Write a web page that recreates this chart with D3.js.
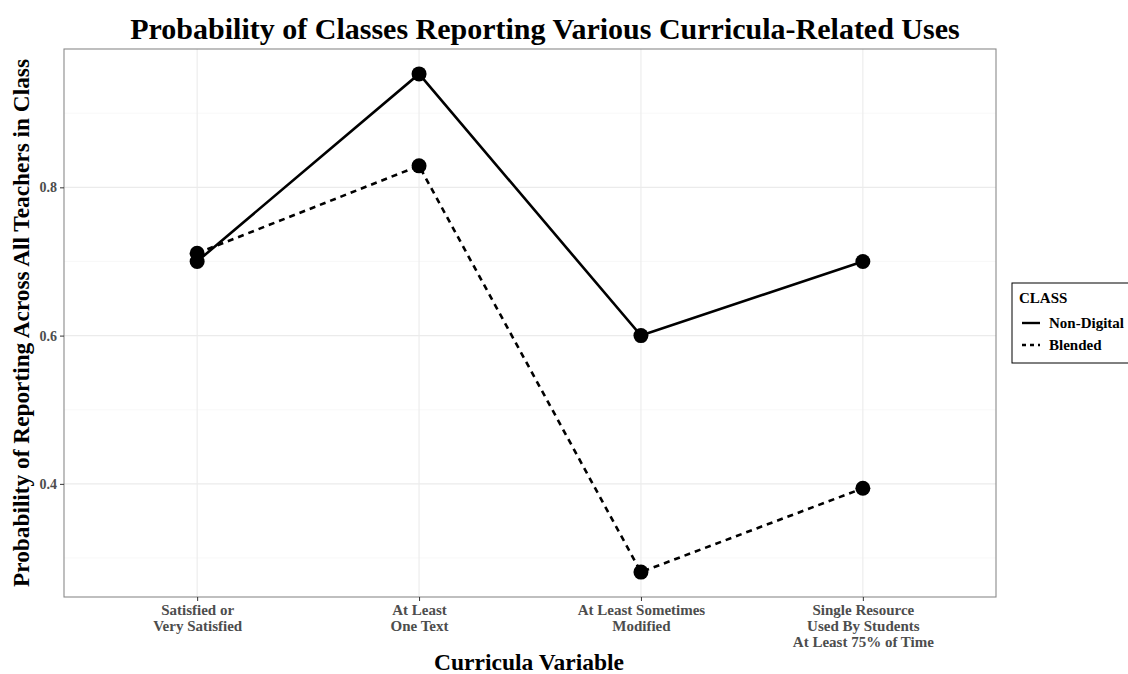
<!DOCTYPE html>
<meta charset="utf-8">
<style>
  body { margin: 0; background: #fff; }
  svg text { font-family: "Liberation Serif", "Times New Roman", serif; font-weight: bold; }
  .grid-major { stroke: #ebebeb; stroke-width: 1.1px; }
  .grid-minor { stroke: #f3f3f3; stroke-width: 0.6px; }
  .tick-label { fill: #4d4d4d; font-size: 15px; }
  .y-tick-label { fill: #4d4d4d; font-size: 14px; }
</style>
<svg width="1128" height="674"></svg>
<script src="https://cdn.jsdelivr.net/npm/d3@7"></script>
<script>
  // values
  var categories = ["Satisfied or\nVery Satisfied", "At Least\nOne Text", "At Least Sometimes\nModified", "Single Resource\nUsed By Students\nAt Least 75% of Time"]
  var nonDigital = [0.700, 0.953, 0.600, 0.700]
  var blended = [0.711, 0.829, 0.281, 0.394]
  var yTicks = [0.4, 0.6, 0.8]
  var yMinor = [0.3, 0.5, 0.7, 0.9]
  var seriesNames = ["Non-Digital", "Blended"]

  var svg = d3.select("svg")
  var panel = { left: 64, right: 996, top: 49, bottom: 597 }

  var x = d3.scalePoint()
    .domain(categories)
    .range([panel.left, panel.right])
    .padding(0.6)

  var all = nonDigital.concat(blended)
  var lo = d3.min(all), hi = d3.max(all), pad = (hi - lo) * 0.05
  var y = d3.scaleLinear()
    .domain([lo - pad, hi + pad])
    .range([panel.bottom, panel.top])

  var g = svg.append("g")

  // grid
  g.selectAll(".grid-minor-y").data(yMinor).enter().append("line")
    .attr("class", "grid-minor")
    .attr("x1", panel.left).attr("x2", panel.right)
    .attr("y1", d => y(d)).attr("y2", d => y(d))
  g.selectAll(".grid-major-y").data(yTicks).enter().append("line")
    .attr("class", "grid-major")
    .attr("x1", panel.left).attr("x2", panel.right)
    .attr("y1", d => y(d)).attr("y2", d => y(d))
  g.selectAll(".grid-major-x").data(categories).enter().append("line")
    .attr("class", "grid-major")
    .attr("x1", d => x(d)).attr("x2", d => x(d))
    .attr("y1", panel.top).attr("y2", panel.bottom)

  // series
  var series = [
    { name: seriesNames[0], values: nonDigital, dash: null },
    { name: seriesNames[1], values: blended, dash: "6,5" }
  ]
  var line = d3.line()
    .x((d, i) => x(categories[i]))
    .y(d => y(d))

  series.forEach(s => {
    g.append("path")
      .attr("d", line(s.values))
      .attr("fill", "none")
      .attr("stroke", "#000")
      .attr("stroke-width", 2.6)
      .attr("stroke-dasharray", s.dash)
  })
  series.forEach(s => {
    g.selectAll(null).data(s.values).enter().append("circle")
      .attr("cx", (d, i) => x(categories[i]))
      .attr("cy", d => y(d))
      .attr("r", 7.5)
      .attr("fill", "#000")
  })

  // panel border
  g.append("rect")
    .attr("x", panel.left).attr("y", panel.top)
    .attr("width", panel.right - panel.left).attr("height", panel.bottom - panel.top)
    .attr("fill", "none").attr("stroke", "#8a8a8a").attr("stroke-width", 1.1)

  // x axis
  var xAxis = d3.axisBottom(x).tickSize(4).tickPadding(3).tickFormat("")
  var xg = svg.append("g").attr("transform", "translate(0," + panel.bottom + ")").call(xAxis)
  xg.select(".domain").remove()
  xg.selectAll(".tick line").attr("stroke", "#333")
  xg.selectAll(".tick").append("text")
    .attr("class", "tick-label")
    .attr("text-anchor", "middle")
    .each(function (d) {
      var t = d3.select(this)
      d.split("\n").forEach((s, i) => {
        t.append("tspan").attr("x", 0).attr("y", 18 + i * 16).text(s)
      })
    })

  // y axis
  var yAxis = d3.axisLeft(y).tickValues(yTicks).tickSize(4).tickPadding(3).tickFormat(d3.format(".1f"))
  var yg = svg.append("g").attr("transform", "translate(" + panel.left + ",0)").call(yAxis)
  yg.select(".domain").remove()
  yg.selectAll(".tick line").attr("stroke", "#333")
  yg.selectAll(".tick text").attr("class", "y-tick-label").attr("font-family", null).attr("font-size", null)

  // titles
  svg.append("text")
    .attr("x", 545).attr("y", 39)
    .attr("text-anchor", "middle")
    .attr("font-size", 30)
    .text("Probability of Classes Reporting Various Curricula-Related Uses")

  svg.append("text")
    .attr("x", (panel.left + panel.right) / 2 - 1).attr("y", 670)
    .attr("text-anchor", "middle")
    .attr("font-size", 23.5)
    .text("Curricula Variable")

  svg.append("text")
    .attr("transform", "translate(29," + (panel.top + panel.bottom) / 2 + ") rotate(-90)")
    .attr("text-anchor", "middle")
    .attr("font-size", 23.3)
    .text("Probability of Reporting Across All Teachers in Class")

  // legend
  var lg = svg.append("g").attr("transform", "translate(1012,283)")
  lg.append("rect")
    .attr("x", 0).attr("y", 0).attr("width", 130).attr("height", 80)
    .attr("fill", "#fff").attr("stroke", "#000").attr("stroke-width", 1)
  lg.append("text").attr("x", 7).attr("y", 20).attr("font-size", 15).text("CLASS")
  series.forEach((s, i) => {
    var cy = 40 + i * 22
    lg.append("line")
      .attr("x1", 10).attr("x2", 28).attr("y1", cy).attr("y2", cy)
      .attr("stroke", "#000").attr("stroke-width", 2.4)
      .attr("stroke-dasharray", s.dash ? "4,4" : null)
    lg.append("text").attr("x", 37).attr("y", cy + 5).attr("font-size", 15).text(s.name)
  })
</script>
